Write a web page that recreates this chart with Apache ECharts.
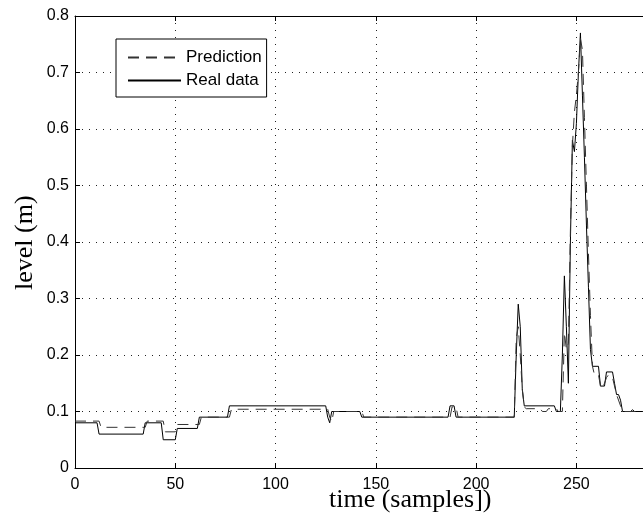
<!DOCTYPE html>
<html>
<head>
<meta charset="utf-8">
<script src="https://cdn.jsdelivr.net/npm/echarts@6/dist/echarts.min.js"></script>
<style>
html,body{margin:0;padding:0;background:#fff;}
#chart{width:643px;height:520px;}
</style>
</head>
<body>
<div id="chart"></div>
<script>
// ---- data ----
const xTicks = [0, 50, 100, 150, 200, 250];
const yTicks = [0, 0.1, 0.2, 0.3, 0.4, 0.5, 0.6, 0.7, 0.8];

const realTime  = [0, 11, 12, 34, 35, 43, 44, 50, 51, 61, 62, 76, 77, 125, 126, 127, 128, 142, 143, 186, 187, 189, 190, 219, 220, 221, 222, 223, 224, 239, 240, 242, 243, 244, 245, 246, 247, 248, 249, 250, 251, 252, 253, 254, 255, 256, 257, 258, 261, 262, 264, 265, 268, 269, 270, 271, 272, 273, 277, 278, 279, 285];
const realLevel = [0.08, 0.08, 0.06, 0.06, 0.08, 0.08, 0.05, 0.05, 0.07, 0.07, 0.09, 0.09, 0.11, 0.11, 0.09, 0.08, 0.10, 0.10, 0.09, 0.09, 0.11, 0.11, 0.09, 0.09, 0.20, 0.29, 0.25, 0.14, 0.11, 0.11, 0.10, 0.10, 0.20, 0.34, 0.25, 0.15, 0.40, 0.58, 0.56, 0.61, 0.70, 0.77, 0.66, 0.55, 0.43, 0.32, 0.21, 0.18, 0.18, 0.145, 0.145, 0.17, 0.17, 0.15, 0.13, 0.13, 0.12, 0.10, 0.10, 0.103, 0.10, 0.10];

const predTime  = [0, 12, 13, 35, 36, 44, 45, 50, 51, 62, 63, 77, 78, 126, 127, 128, 129, 143, 144, 187, 188, 190, 191, 219, 220, 221, 222, 223, 224, 225, 232, 233, 235, 236, 240, 241, 243, 244, 245, 246, 247, 248, 249, 250, 251, 252, 253, 254, 255, 256, 257, 258, 259, 261, 262, 263, 265, 266, 268, 270, 272, 273, 285];
const predLevel = [0.083, 0.083, 0.072, 0.072, 0.083, 0.083, 0.064, 0.064, 0.077, 0.077, 0.09, 0.09, 0.104, 0.104, 0.09, 0.082, 0.10, 0.10, 0.09, 0.09, 0.108, 0.108, 0.09, 0.09, 0.23, 0.25, 0.20, 0.14, 0.108, 0.105, 0.105, 0.10, 0.10, 0.105, 0.105, 0.10, 0.10, 0.24, 0.21, 0.22, 0.42, 0.57, 0.63, 0.66, 0.70, 0.76, 0.74, 0.62, 0.50, 0.38, 0.27, 0.18, 0.165, 0.165, 0.145, 0.14, 0.16, 0.165, 0.16, 0.13, 0.11, 0.10, 0.10];

const seriesNames = ['Prediction', 'Real data'];

const realData = realTime.map((t, i) => [t, realLevel[i]]);
const predData = predTime.map((t, i) => [t, predLevel[i]]);

const chart = echarts.init(document.getElementById('chart'), null, {renderer: 'canvas'});

const tickFont = {fontFamily: 'Liberation Sans, Arial, Helvetica, sans-serif', fontSize: 16, color: '#000'};
const gridLine = {show: true, lineStyle: {color: '#222', width: 1, type: [1, 6]}};
const X_MAX = 283.2;

chart.setOption({
  animation: false,
  backgroundColor: '#fff',
  grid: {left: 75, top: 16, right: 0, bottom: 52, show: false},
  legend: {
    orient: 'vertical',
    left: 116, top: 39,
    padding: [10, 5, 8, 11],
    itemWidth: 53, itemHeight: 16, itemGap: 6,
    backgroundColor: '#fff',
    borderColor: '#000', borderWidth: 1,
    itemStyle: {opacity: 0},
    textStyle: {fontFamily: 'Liberation Sans, Arial, Helvetica, sans-serif', fontSize: 17, color: '#000'},
    data: seriesNames
  },
  xAxis: [{
    type: 'value', min: 0, max: X_MAX, interval: 50,
    axisLine: {show: true, lineStyle: {color: '#000', width: 1}},
    axisTick: {show: true, inside: true, length: 5, lineStyle: {color: '#000'}},
    axisLabel: Object.assign({margin: 9, showMaxLabel: false, formatter: v => xTicks.indexOf(v) >= 0 ? String(v) : ''}, tickFont),
    splitLine: gridLine
  }, {
    type: 'value', min: 0, max: X_MAX, interval: 50, position: 'top',
    axisLine: {show: true, lineStyle: {color: '#000', width: 1}},
    axisTick: {show: true, inside: true, length: 5, lineStyle: {color: '#000'}},
    axisLabel: {show: false}, splitLine: {show: false}
  }],
  yAxis: {
    type: 'value', min: 0, max: 0.8, interval: 0.1,
    axisLine: {show: true, lineStyle: {color: '#000', width: 1}},
    axisTick: {show: true, inside: true, length: 5, lineStyle: {color: '#000'}},
    axisLabel: Object.assign({margin: 6, formatter: v => {
      const k = yTicks.find(y => Math.abs(y - v) < 1e-9);
      return k === undefined ? '' : String(k);
    }}, tickFont),
    splitLine: gridLine
  },
  graphic: [
    {type: 'text', left: 329, top: 487, style: {text: 'time (samples])', font: '26px "Liberation Serif", "Times New Roman", serif', fill: '#000'}},
    {type: 'text', x: 12, y: 290, rotation: Math.PI / 2, style: {text: 'level (m)', font: '26px "Liberation Serif", "Times New Roman", serif', fill: '#000', align: 'left', verticalAlign: 'top'}}
  ],
  series: [{
    name: 'Prediction', type: 'line', data: predData, symbol: 'none', showSymbol: false,
    lineStyle: {color: '#333', width: 1, type: [11, 7]}, itemStyle: {color: '#333'}, z: 3
  }, {
    name: 'Real data', type: 'line', data: realData, symbol: 'none', showSymbol: false,
    lineStyle: {color: '#000', width: 1, type: 'solid'}, itemStyle: {color: '#000'}, z: 2
  }]
});
</script>
</body>
</html>
